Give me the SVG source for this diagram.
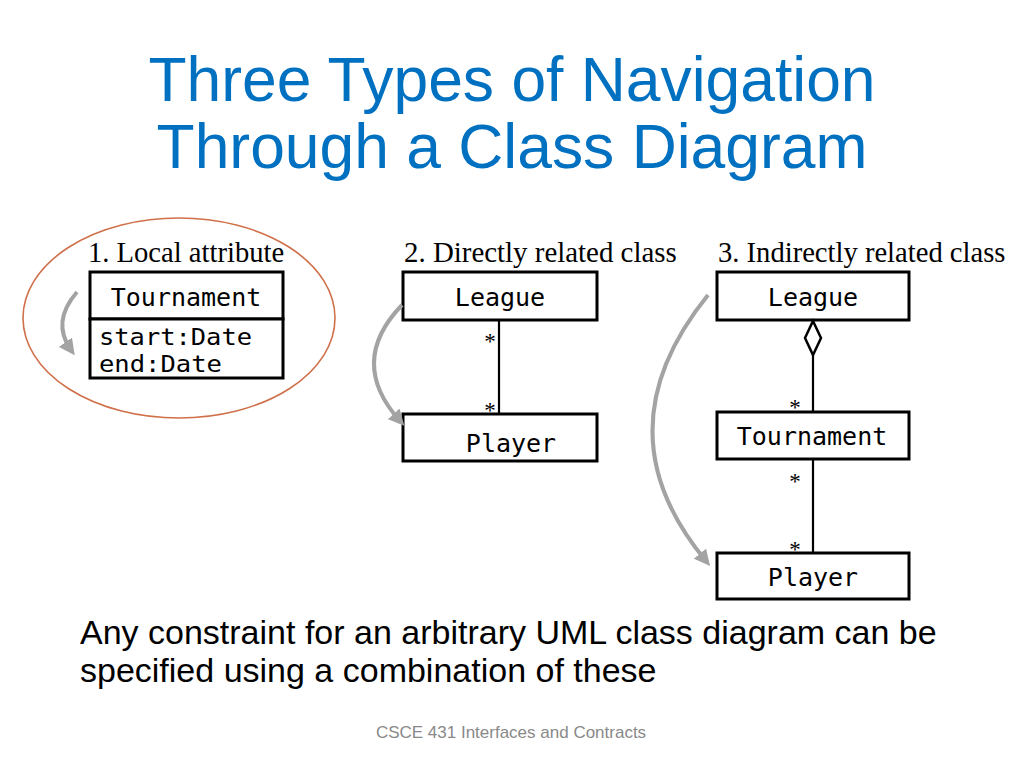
<svg xmlns="http://www.w3.org/2000/svg" width="1024" height="768" viewBox="0 0 1024 768">
<style>
.title{font-family:"Liberation Sans",Arial,sans-serif;font-size:62.4px;fill:#0070C0;text-anchor:middle}
.body{font-family:"Liberation Sans",Arial,sans-serif;font-size:34px;fill:#000}
.foot{font-family:"Liberation Sans",Arial,sans-serif;font-size:17px;fill:#898989;text-anchor:middle}
.lbl{font-family:"Liberation Serif","Times New Roman",serif;font-size:28.6px;fill:#000}
.mono{font-family:"DejaVu Sans Mono","Liberation Mono",monospace;font-size:25px;fill:#000}
.attr{font-family:"DejaVu Sans Mono","Liberation Mono",monospace;font-size:22.5px;fill:#000}
.mid{text-anchor:middle}
.star{font-family:"Liberation Serif","Times New Roman",serif;font-size:23px;fill:#000;text-anchor:middle}
.box{fill:#fff;stroke:#000;stroke-width:3}
.assoc{stroke:#000;stroke-width:2.2;fill:none}
.nav{stroke:#a3a3a3;stroke-width:4;fill:none}
</style>
<defs>
<marker id="gh" viewBox="0 0 10 10" refX="6" refY="5" markerWidth="4" markerHeight="4" orient="auto" markerUnits="strokeWidth">
<path d="M0,0 L10,5 L0,10 z" fill="#a3a3a3"/>
</marker>
</defs>
<rect width="1024" height="768" fill="#fff"/>
<g id="title">
<text class="title" x="512" y="101">Three Types of Navigation</text>
<text class="title" x="512" y="168">Through a Class Diagram</text>
</g>
<g id="panel1">
<ellipse cx="179" cy="318" rx="156" ry="100" fill="none" stroke="#D0704A" stroke-width="1.6"/>
<text class="lbl" x="88" y="262">1. Local attribute</text>
</g>
<g id="node-tournament1">
<rect class="box" x="90" y="272" width="193" height="47"/>
<rect class="box" x="90" y="319" width="193" height="59"/>
<text class="mono mid" x="186" y="306">Tournament</text>
<text class="attr" x="99" y="345" textLength="153" lengthAdjust="spacingAndGlyphs">start:Date</text>
<text class="attr" x="99" y="372" textLength="123" lengthAdjust="spacingAndGlyphs">end:Date</text>
</g>
<g id="panel2">
<text class="lbl" x="404" y="262" style="font-size:28.9px">2. Directly related class</text>
</g>
<g id="node-league2">
<rect class="box" x="403" y="272" width="194" height="48"/>
<text class="mono mid" x="500" y="306">League</text>
</g>
<g id="node-player2">
<rect class="box" x="403" y="414" width="194" height="47"/>
<text class="mono mid" x="511" y="452">Player</text>
</g>
<g id="panel3">
<text class="lbl" x="718" y="262">3. Indirectly related class</text>
</g>
<g id="node-league3">
<rect class="box" x="717" y="272" width="192" height="48"/>
<text class="mono mid" x="813" y="306">League</text>
</g>
<g id="node-tournament3">
<rect class="box" x="717" y="412" width="192" height="47"/>
<text class="mono mid" x="812" y="445">Tournament</text>
</g>
<g id="node-player3">
<rect class="box" x="717" y="553" width="192" height="46"/>
<text class="mono mid" x="813" y="586">Player</text>
</g>
<g id="connectors">
<line class="assoc" x1="499" y1="320" x2="499" y2="414"/>
<text class="star" x="490" y="349">*</text>
<text class="star" x="490" y="418">*</text>
<polygon points="813,321 821,338 813,355 805,338" fill="#fff" stroke="#000" stroke-width="2.5"/>
<line class="assoc" x1="813" y1="355" x2="813" y2="412"/>
<line class="assoc" x1="813" y1="459" x2="813" y2="553"/>
<text class="star" x="795" y="415">*</text>
<text class="star" x="795" y="489">*</text>
<text class="star" x="795" y="557">*</text>
<path class="nav" d="M77,292 Q51,322 71,350" marker-end="url(#gh)"/>
<path class="nav" d="M402,305 Q347,362 400,421" marker-end="url(#gh)"/>
<path class="nav" d="M708,295 Q598,431 706,561" marker-end="url(#gh)"/>
</g>
<g id="text">
<text class="body" x="80" y="644">Any constraint for an arbitrary UML class diagram can be</text>
<text class="body" x="80" y="682">specified using a combination of these</text>
<text class="foot" x="511" y="738">CSCE 431 Interfaces and Contracts</text>
</g>
</svg>
